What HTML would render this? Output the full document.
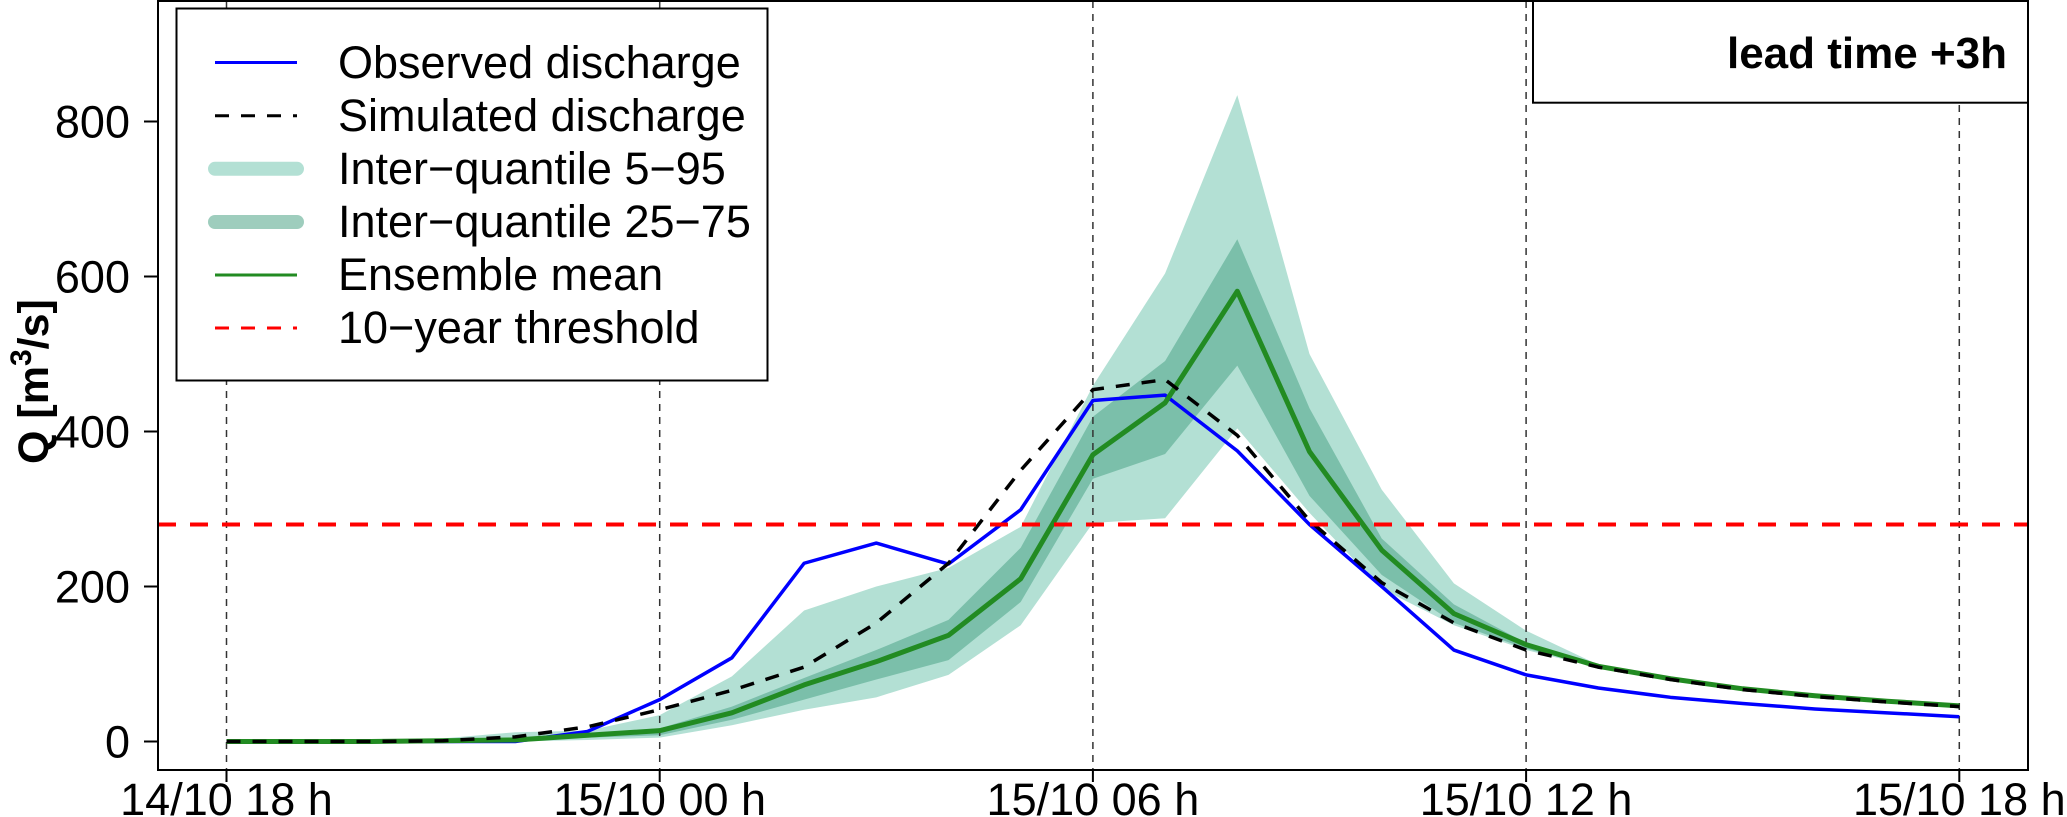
<!DOCTYPE html>
<html><head><meta charset="utf-8"><style>
html,body{margin:0;padding:0;background:#fff;}
svg{display:block;font-family:"Liberation Sans",Arial,sans-serif;}
</style></head><body>
<svg id="chart" width="2067" height="817" viewBox="0 0 2067 817" xmlns="http://www.w3.org/2000/svg">
<g id="bands"></g>
<g id="grid"></g>
<g id="series"></g>
<g id="axes"></g>
<g>
 <rect x="176.5" y="8.5" width="591" height="372" fill="#fff" stroke="#000" stroke-width="2"/>
 <line x1="215" y1="62.5" x2="297" y2="62.5" stroke="#0000ff" stroke-width="3"/>
 <text x="338" y="78" font-size="45">Observed discharge</text>
 <line x1="215" y1="115.7" x2="297" y2="115.7" stroke="#000" stroke-width="3" stroke-dasharray="14,12"/>
 <text x="338" y="131" font-size="45">Simulated discharge</text>
 <line x1="215" y1="168.8" x2="297" y2="168.8" stroke="#b3e0d4" stroke-width="14" stroke-linecap="round"/>
 <text x="338" y="184" font-size="45">Inter−quantile 5−95</text>
 <line x1="215" y1="222" x2="297" y2="222" stroke="#9ecdbd" stroke-width="14" stroke-linecap="round"/>
 <text x="338" y="237" font-size="45">Inter−quantile 25−75</text>
 <line x1="215" y1="275" x2="297" y2="275" stroke="#228b22" stroke-width="3"/>
 <text x="338" y="290" font-size="45">Ensemble mean</text>
 <line x1="215" y1="328" x2="297" y2="328" stroke="#ff0000" stroke-width="3" stroke-dasharray="14,12"/>
 <text x="338" y="343" font-size="45">10−year threshold</text>
</g>
<g>
 <rect x="1533" y="1" width="495" height="101.7" fill="#fff" stroke="#000" stroke-width="2"/>
 <text x="2007" y="68" font-size="44" font-weight="bold" text-anchor="end">lead time +3h</text>
</g>
<text transform="translate(48,464) rotate(-90)" font-size="43" font-weight="bold">Q [m<tspan font-size="30" dy="-17">3</tspan><tspan dy="17">/s]</tspan></text>
</svg>
<script>
const hours = [0,1,2,3,4,5,6,7,8,9,10,11,12,13,14,15,16,17,18,19,20,21,22,23,24];
const observed = [0,0,0,0,0,13,54,108,230,256,229,299,440,447,375,280,200,118,86,69,57,49,42,37,32];
const simulated = [0,0,0,1,6,19,41,66,96,153,230,350,454,467,395,285,205,153,118,96,80,67,58,51,45];
const ensembleMean = [0,0,0,1,2,8,14,37,73,103,137,210,370,437,581,374,247,165,125,97,81,68,59,52,46];
const q95 = [0,0,1,4,12,14,34,84,169,200,224,277,459,604,834,500,325,204,143,99,83,70,61,54,48];
const q05 = [0,0,0,0,0,2,5,21,41,57,86,150,282,288,404,295,197,150,118,95,79,66,57,50,44];
const q75 = [0,0,0,1,3,10,17,45,82,118,157,250,419,491,648,430,262,177,127,98,82,69,60,53,47];
const q25 = [0,0,0,0,1,5,8,28,54,80,105,180,339,371,485,317,215,153,120,96,80,67,58,51,45];
const threshold = 280;
const yTicks = [0,200,400,600,800];
const xTickHours = [0,6,12,18,24];
const xTickLabels = ["14/10 18 h","15/10 00 h","15/10 06 h","15/10 12 h","15/10 18 h"];

const NS="http://www.w3.org/2000/svg";
const X0=226.5, XH=72.2, Y0=741.5, YU=0.775;
const PL=158, PR=2028, PT=1, PB=770;
const xs = h => X0 + h*XH;
const ys = v => Y0 - v*YU;
function mk(tag, parent){const e=document.createElementNS(NS,tag);document.getElementById(parent).appendChild(e);return e;}
function band(up, lo, color, name){
  let d = hours.map((h,i)=>(i?'L':'M')+xs(h)+','+ys(up[i])).join('');
  for(let i=hours.length-1;i>=0;i--) d+='L'+xs(hours[i])+','+ys(lo[i]);
  const p=mk('path','bands'); p.setAttribute('d',d+'Z'); p.setAttribute('fill',color);
  
  
}
band(q95,q05,'#b3e0d4','band-5-95');
band(q75,q25,'#7bbfaa','band-25-75');
xTickHours.forEach((h,i)=>{
  const l=mk('line','grid'); l.setAttribute('x1',xs(h));l.setAttribute('x2',xs(h));l.setAttribute('y1',PT);l.setAttribute('y2',PB);
  l.setAttribute('stroke','#333');l.setAttribute('stroke-width','1.5');l.setAttribute('stroke-dasharray','7,6');
  
  
});
function line(vals, color, w, dash, name){
  const p=mk('polyline','series');
  p.setAttribute('points', hours.map((h,i)=>xs(h)+','+ys(vals[i])).join(' '));
  p.setAttribute('fill','none');p.setAttribute('stroke',color);p.setAttribute('stroke-width',w);
  p.setAttribute('stroke-linejoin','round');
  if(dash)p.setAttribute('stroke-dasharray',dash);
  
  
}
line(observed,'#0000ff',3.5,null,'observed-line');
line(ensembleMean,'#228b22',5,null,'ensemble-mean-line');
line(simulated,'#000',3.5,'14,12','simulated-line');
const t=mk('line','series');
t.setAttribute('x1',PL);t.setAttribute('x2',PR);t.setAttribute('y1',ys(threshold));t.setAttribute('y2',ys(threshold));
t.setAttribute('stroke','#ff0000');t.setAttribute('stroke-width','4');t.setAttribute('stroke-dasharray','18,14');


const f=mk('rect','axes');f.setAttribute('x',PL);f.setAttribute('y',PT);f.setAttribute('width',PR-PL);f.setAttribute('height',PB-PT);
f.setAttribute('fill','none');f.setAttribute('stroke','#000');f.setAttribute('stroke-width','2');


yTicks.forEach(v=>{
  const l=mk('line','axes');l.setAttribute('x1',144);l.setAttribute('x2',PL);l.setAttribute('y1',ys(v));l.setAttribute('y2',ys(v));
  l.setAttribute('stroke','#000');l.setAttribute('stroke-width','2');
  
  
  const tx=mk('text','axes');tx.setAttribute('x',130);tx.setAttribute('y',ys(v)+16);tx.setAttribute('font-size','45');
  tx.setAttribute('text-anchor','end');tx.textContent=v;
  
  
});
xTickHours.forEach((h,i)=>{
  const l=mk('line','axes');l.setAttribute('x1',xs(h));l.setAttribute('x2',xs(h));l.setAttribute('y1',PB);l.setAttribute('y2',PB+12);
  l.setAttribute('stroke','#000');l.setAttribute('stroke-width','2');
  
  
  const tx=mk('text','axes');tx.setAttribute('x',xs(h));tx.setAttribute('y',815);tx.setAttribute('font-size','45');
  tx.setAttribute('text-anchor','middle');tx.textContent=xTickLabels[i];
  
  
});
</script>
</body></html>
